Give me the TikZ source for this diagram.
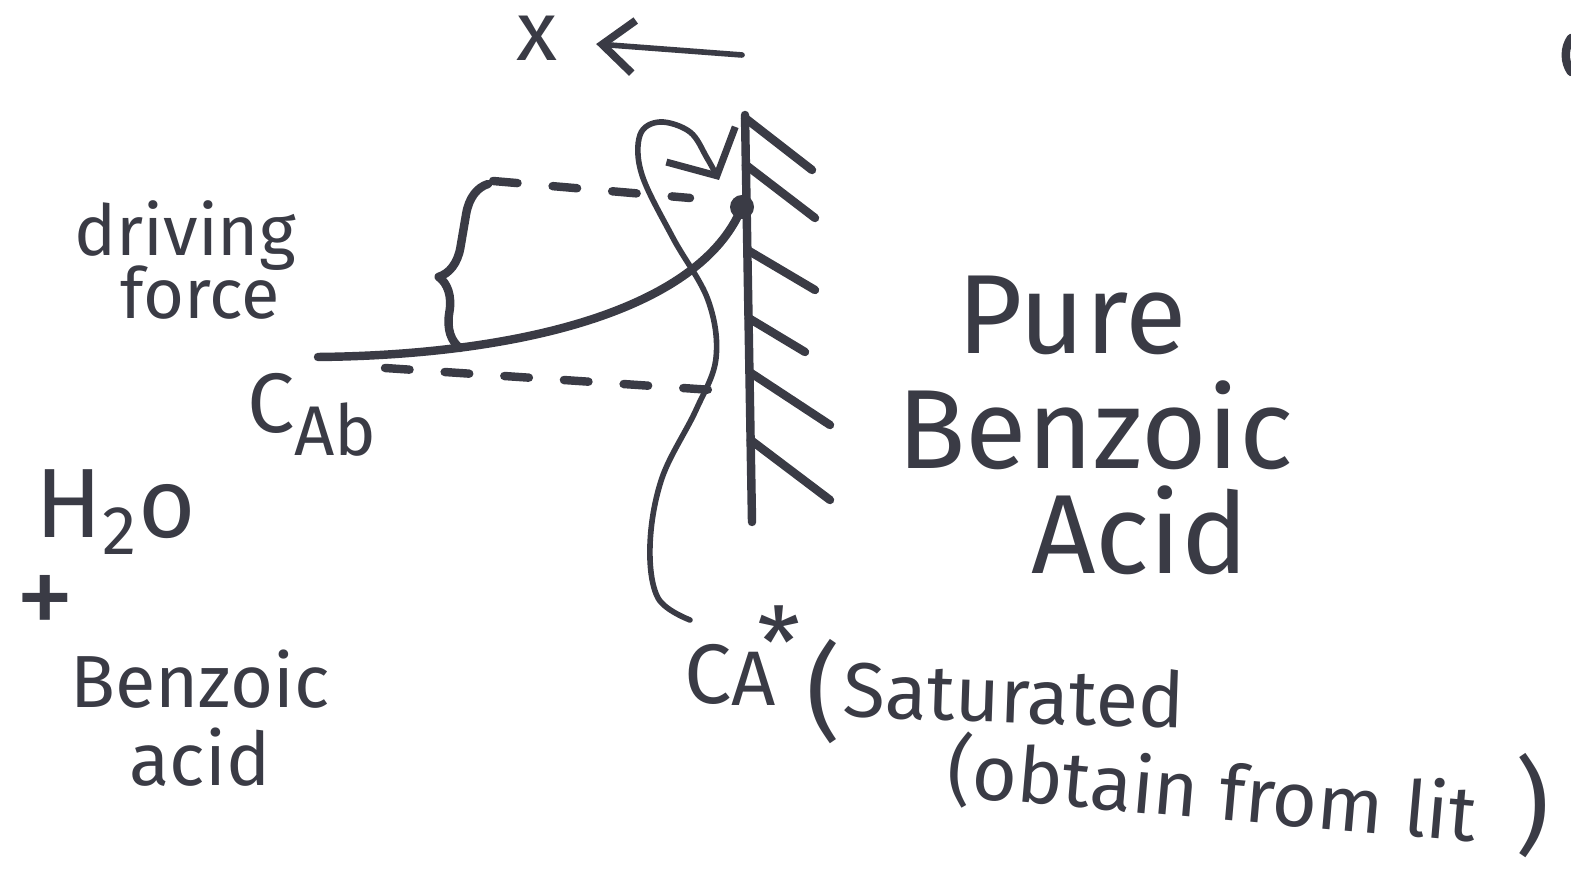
\documentclass[tikz,border=0pt]{standalone}
\usepackage{fontspec}
\setmainfont{Fira Sans}
\usetikzlibrary{arrows.meta,decorations.pathreplacing,calc}
\definecolor{ink}{HTML}{3A3B45}
\begin{document}
\begin{tikzpicture}[x=0.01cm,y=-0.01cm,
  mk/.style={draw=ink,line width=2.4pt,line cap=round,line join=round},
  thinline/.style={draw=ink,line width=1.6pt,line cap=round,line join=round},
  dashline/.style={mk,dash pattern=on 7pt off 10pt},
  lbl/.style={text=ink,inner sep=0pt},
  big/.style={lbl,font=\fontsize{32}{36}\selectfont},
  mid/.style={lbl,font=\fontsize{24}{28}\selectfont},
  small/.style={lbl,font=\fontsize{20}{23}\selectfont},
  barb/.style={-{Straight Barb[length=10pt,width=22pt,line width=2pt]}},
  xbarb/.style={-{Straight Barb[length=9pt,width=15pt,line width=2.2pt]}}]
\useasboundingbox (0,0) rectangle (1571,874);
% wall and hatching
\coordinate (wtop) at (745,115);
\coordinate (wbot) at (752,522);
\draw[mk] (wtop) -- (wbot);
\foreach \ya/\xb/\yb [count=\i] in {118/812/170, 165/815/218, 250/815/290, 318/805/352, 372/830/425, 440/830/500}{
  \coordinate (h\i) at ($(wtop)!{(\ya-115)/407}!(wbot)$);
  \draw[mk] (h\i) -- (\xb,\yb);
}
% equilibrium point
\node[circle,fill=ink,minimum size=0.24cm,inner sep=0pt] (eq) at (742,207) {};
% concentration profile
\coordinate (cab0) at (318,357);
\draw[mk] (cab0) .. controls (520,355) and (700,310) .. (eq.center);
% dashed levels
\coordinate (dtop) at (493,181);
\coordinate (dtopend) at (690,198);
\coordinate (dbot) at (385,368);
\coordinate (dbotend) at (742,392);
\draw[dashline] (dtop) -- (dtopend);
\draw[dashline] (dbot) -- (dbotend);
% brace
\coordinate (bbot) at (460,348);
\coordinate (btop) at (488,184);
\draw[mk,decorate,decoration={brace,amplitude=0.33cm,aspect=0.4}] (bbot) -- (btop);
% direction arrow
\node[lbl,font=\fontsize{24}{28}\selectfont] (xlab) at (537,38) {x};
\coordinate (xs) at (742,55);
\draw[thinline,xbarb] (xs) -- ($(xlab.east)+(38,6)$);
% loop curve to C_A*
\node[mid,anchor=base west] (cas) at (684,704) {C\raisebox{-0.02em}{\fontsize{22}{22}\selectfont A}\kern-0.22em\raisebox{0.3em}{\fontsize{28}{28}\selectfont *}};
\draw[thinline,barb] plot[smooth,tension=0.6] coordinates {(690,620) (658,598) (650,545) (662,478) (696,410) (716,358) (708,300) (673,238) (642,175) (640,135) (660,122) (690,132) (707,158) (719,180)};
% labels
\node[small,align=left] (df) at (185,260) {driving\\[-5pt]\hspace*{0.65em}force};
\node[mid] (cab) at (312,415) {C\raisebox{-0.28em}{\fontsize{20}{20}\selectfont Ab}};
\node[big,font=\fontsize{28}{32}\selectfont] (h2o) at (116,512) {H\textsubscript{2}o};
\node[lbl,font=\fontsize{34}{34}\selectfont] (plus) at (45,606) {+};
\node[small,align=center,font=\fontsize{21}{24}\selectfont] (bz1) at (200,718) {Benzoic\\[-2pt]acid};
\node[big] (pure) at (1072,315) {Pure};
\node[big] (bz2) at (1095,425) {Benzoic};
\node[big] (ac2) at (1140,530) {Acid};
\node[lbl,font=\fontsize{30}{30}\selectfont] (lp) at (824,692) {(};
\node[small,font=\fontsize{22}{26}\selectfont,rotate=-2] (sat) at (1014,694) {Saturated};
\node[small,font=\fontsize{22}{26}\selectfont,rotate=-5] (obt) at (1212,792) {(obtain from lit};
\node[lbl,font=\fontsize{30}{30}\selectfont,anchor=south] (rp) at (1533,858) {)};
% partial mark at right edge
\draw[mk] (1571,38) .. controls (1564,48) and (1564,62) .. (1571,72);
\end{tikzpicture}
\end{document}
